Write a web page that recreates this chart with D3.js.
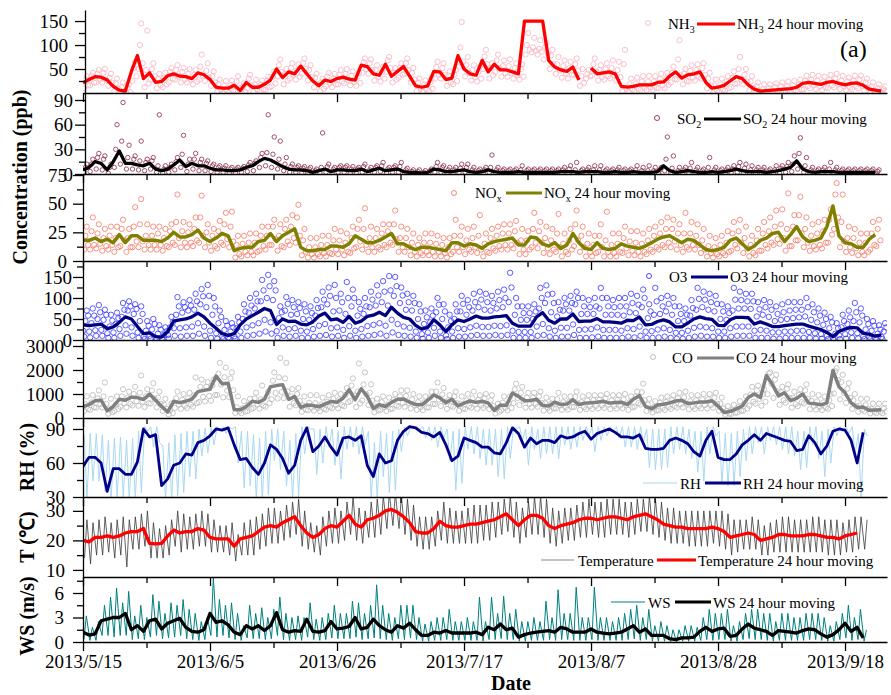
<!DOCTYPE html>
<html><head><meta charset="utf-8">
<script src="https://cdn.jsdelivr.net/npm/d3@7"></script>
<style>body{margin:0;background:#fff}svg{display:block}text{font-family:"Liberation Serif","Times New Roman",serif}</style>
</head><body><svg id="c" width="891" height="695"></svg>
<script>
// ---------------- DATA (daily values, day 0 = 2013/5/15) ----------------
const startDate = "2013-05-15";
const dateTicks = ["2013-05-15","2013-06-05","2013-06-26","2013-07-17","2013-08-07","2013-08-28","2013-09-18"];

const nh3MA = [21,28,34,33,27,14,6,4,45,78, 30,42,22,24,36,40,35,34,30,42, 38,28,12,10,10,16,5,22,12,12, 18,27,50,32,44,40,56,40,25,15, 27,24,30,33,29,27,58,55,40,37, 60,35,45,55,35,15,12,15,45,44, 28,31,78,50,40,37,68,44,60,48, 48,44,40,150,150,150,150,68,54,48, 45,54,27,null,52,40,42,44,40,14, 12,14,17,17,17,22,23,35,44,31, 38,40,44,22,10,12,16,25,34,30, 17,8,4,5,6,7,8,9,12,20, 22,20,18,22,24,20,17,20,21,16, 8,6,4];
const nh3Hi = [35,42,48,50,40,30,22,18,65,145, 130,62,40,42,52,58,52,50,48,80, 62,45,28,25,26,35,20,38,28,26, 34,45,70,50,62,60,72,58,40,30, 42,40,48,50,45,42,72,70,58,55, 75,52,62,72,52,30,26,30,65,62, 45,48,148,75,58,55,90,62,80,68, 70,62,60,125,115,110,104,90,75,68, 65,72,50,48,72,58,62,68,65,90, 30,32,35,36,35,40,42,55,110,50, 58,60,62,42,28,30,35,45,75,50, 35,22,18,18,20,22,24,25,28,36, 38,36,34,38,40,36,32,36,36,30, 22,18,14];
const nh3Mid = [28,36,40,42,32,20,12,10,52,100, 48,50,30,32,44,48,44,40,38,55, 46,35,18,16,16,24,12,30,18,18, 26,34,58,40,52,48,62,48,32,22, 34,30,38,40,36,34,64,62,48,44, 68,42,52,62,42,22,18,22,54,52, 36,38,95,58,48,44,76,52,68,56, 56,52,50,100,95,92,96,78,60,56, 52,60,35,40,60,48,50,52,48,60, 18,20,24,24,24,30,30,42,70,40, 46,48,52,30,16,18,24,32,50,38, 24,14,8,10,12,14,14,16,18,26, 28,26,24,28,30,26,24,26,28,22, 14,10,8];
const nh3Low2 = [16,22,28,27,21,9,3,2,35,62, 20,35,16,18,30,34,28,28,24,36, 32,22,7,5,5,10,2,16,7,7, 12,20,44,26,38,34,50,34,18,9, 20,18,24,27,23,21,50,48,34,30, 52,28,38,48,28,9,7,9,38,38, 22,25,66,42,33,30,60,37,52,41, 41,37,34,90,88,86,82,60,47,41, 38,47,21,35,45,33,35,37,33,9, 7,9,11,11,11,16,17,29,37,25, 32,34,38,16,5,7,10,19,28,24, 11,4,2,2,3,3,4,5,7,14, 16,14,12,16,18,14,11,14,15,11, 4,3,2];
const nh3Lo = [10,16,22,22,15,4,0,0,25,50, 12,28,10,12,22,28,22,22,18,28, 25,15,2,0,0,5,0,10,2,2, 6,14,35,18,30,28,40,26,12,4, 14,12,18,20,16,15,42,40,26,24, 44,22,32,40,22,4,2,4,30,30, 15,18,55,35,26,24,50,30,44,34, 34,30,28,80,85,80,70,50,40,32, 30,38,15,30,36,26,28,30,26,4, 2,4,6,6,6,10,10,22,28,18, 24,26,30,10,0,2,5,12,20,18, 6,0,0,0,0,0,0,0,2,8, 10,8,6,10,12,8,6,8,10,5, 0,0,0];

const so2MA = [5,8,15,13,5,15,28,13,13,11, 10,13,6,4,6,11,17,9,13,10, 10,7,5,5,4,4,5,8,10,15, 19,17,13,9,6,5,5,4,2,4, 6,3,5,5,4,4,6,3,5,7, 4,5,6,3,2,2,1,2,6,5, 3,3,4,5,3,2,3,5,3,2, 2,2,3,2,2,2,2,2,2,3, 3,3,2,3,3,3,2,2,3,2, 2,3,2,2,2,3,10,4,2,3, 4,3,2,2,3,2,3,4,6,4, 3,3,3,2,3,4,6,8,16,6, 3,2,3,3,3,2,2,2,2,2, 2,2];
const so2Hi = [12,18,25,22,12,60,87,35,22,40, 18,20,72,10,12,20,47,18,25,18, 16,12,10,10,8,8,9,14,16,25, 72,45,40,20,12,10,9,8,6,50, 12,8,10,10,9,8,12,8,10,14, 8,10,14,7,5,5,4,6,14,10, 8,8,12,12,8,6,8,23,8,6, 6,6,10,6,6,6,6,6,6,8, 10,14,6,8,10,10,6,6,8,6, 6,10,8,10,8,8,45,22,8,8, 14,8,6,20,8,6,8,10,14,12, 10,8,8,6,10,10,14,22,44,20, 8,6,8,14,8,6,6,6,6,6, 6,5];
const so2Mid = [8,12,20,18,8,30,40,20,18,16, 14,16,10,6,8,15,24,12,18,14, 13,10,8,7,6,6,7,11,13,20, 26,24,18,12,9,8,7,6,4,8, 9,6,8,8,6,6,9,5,8,10, 6,8,9,5,3,3,2,4,9,8, 5,5,7,8,5,4,5,8,5,4, 4,4,5,4,4,4,4,4,4,5, 6,5,4,5,5,5,4,4,5,4, 4,5,4,4,4,5,18,7,4,5, 7,5,4,8,5,4,5,6,9,7, 5,5,5,4,5,7,9,12,25,10, 5,4,5,6,5,4,4,4,4,4, 4,3];
const so2Lo = [2,3,6,5,1,8,12,6,6,5, 4,6,2,1,2,5,8,3,6,4, 4,3,2,2,1,1,2,3,4,8, 10,8,6,4,2,2,1,1,0,1, 2,1,2,2,1,1,2,1,2,3, 1,2,2,1,0,0,0,0,2,2, 1,1,1,2,1,0,1,2,1,0, 0,0,1,0,0,0,0,0,0,1, 1,1,0,1,1,1,0,0,1,0, 0,1,0,0,0,1,4,1,0,1, 1,1,0,0,1,0,1,1,2,1, 1,1,1,0,1,1,2,3,6,2, 1,0,1,1,1,0,0,0,0,0, 0,0];

const noxMA = [18,18,20,17,19,16,23,16,22,22, 18,18,18,17,20,25,21,21,23,27, 20,17,20,24,22,9,11,12,12,17, 18,24,17,22,25,28,12,9,9,10, 10,13,13,12,15,22,19,16,16,18, 21,24,15,15,12,10,12,12,11,10, 9,16,16,13,15,14,11,15,17,18, 19,20,14,14,21,20,15,13,16,11, 14,24,16,11,10,16,11,10,11,15, 13,12,11,13,16,19,21,22,19,16, 19,18,14,10,9,10,12,18,20,15, 10,13,18,20,24,25,17,23,30,21, 17,18,20,30,48,22,16,15,12,12, 19,23];
const noxHi = [30,38,32,28,30,30,36,28,47,54, 32,30,30,28,32,58,34,32,38,57, 32,28,35,42,43,22,22,24,24,30, 30,36,32,36,40,49,28,20,20,22, 22,28,26,24,30,36,46,30,28,32, 32,44,30,28,24,20,24,24,22,20, 20,36,30,28,30,40,24,28,30,32, 32,35,28,26,42,34,30,28,41,24, 28,44,30,24,22,32,43,24,24,30, 26,26,24,28,30,34,38,36,32,42, 34,32,28,22,20,22,26,34,36,30, 22,28,34,38,44,45,59,40,56,38, 32,34,36,45,68,58,30,28,24,24, 34,36];
const noxMid = [22,26,24,20,22,20,28,20,30,32, 22,22,24,20,26,34,26,25,28,38, 25,22,26,32,30,14,15,16,16,22, 22,30,22,28,30,38,18,12,12,14, 14,18,18,16,20,28,28,20,20,24, 26,32,20,20,16,14,16,16,15,14, 12,22,22,18,20,22,15,20,22,24, 24,26,18,18,28,26,20,18,24,15, 18,32,22,15,14,22,18,14,15,20, 17,16,15,18,22,24,28,28,24,24, 24,22,18,13,12,14,16,24,26,20, 14,18,24,26,30,32,28,30,40,28, 22,24,26,36,58,34,20,20,16,16, 24,28];
const noxLow2 = [14,14,15,13,14,12,18,12,17,17, 14,14,14,13,16,20,16,16,18,22, 16,13,16,19,17,6,8,8,8,13, 14,19,13,17,20,22,8,6,6,7, 7,10,10,8,11,17,14,12,12,14, 16,19,12,12,8,7,8,8,8,7, 6,12,12,10,12,10,8,11,13,14, 14,16,10,10,16,16,11,10,12,8, 10,18,12,8,7,12,8,7,8,11, 9,8,8,10,12,14,16,17,14,12, 14,14,10,7,6,7,8,14,16,11, 7,9,14,16,19,20,13,18,24,16, 13,14,16,23,38,17,12,11,8,8, 14,18];
const noxLo = [10,10,11,9,10,8,13,8,12,12, 10,10,10,9,12,14,12,12,13,16, 12,9,11,14,12,3,4,5,5,9, 10,14,9,12,14,16,5,3,3,4, 4,6,6,5,7,12,10,8,8,10, 12,14,8,8,5,4,5,5,4,4, 3,8,8,6,8,7,4,7,9,10, 10,11,6,6,12,11,7,6,8,4, 6,13,8,4,4,8,4,4,4,7, 5,5,4,6,8,10,12,12,10,8, 10,10,7,4,3,4,5,9,11,7, 4,5,9,11,14,15,9,13,18,12, 9,10,11,16,28,12,8,7,5,5, 10,13];

const o3MA = [36,34,36,38,27,31,42,55,50,32, 15,17,8,7,20,45,48,50,55,64, 55,40,28,15,11,15,36,50,58,66, 75,70,37,50,44,45,38,36,43,57, 64,48,50,42,56,40,45,56,59,66, 58,78,64,54,50,35,26,30,48,36, 20,36,48,44,50,57,52,52,55,56, 58,40,33,33,33,55,65,47,40,50, 50,62,44,45,45,51,43,43,42,40, 47,46,55,36,37,44,48,43,31,31, 40,50,55,51,49,35,34,48,54,54, 53,38,43,38,32,32,34,36,38,38, 33,29,25,18,8,20,26,30,29,16, 14,9,12];
const o3Hi = [70,75,83,72,60,65,88,92,85,80, 45,50,35,30,55,102,90,95,110,121, 131,100,70,45,40,55,85,100,110,143, 155,140,80,102,95,90,85,80,95,115, 125,131,110,138,120,90,100,115,130,140, 152,150,125,110,105,85,70,75,100,85, 60,85,105,95,110,115,110,105,115,120, 160,100,80,80,85,124,130,110,90,100, 105,115,100,95,100,124,100,95,100,100, 110,105,120,85,124,100,105,100,80,75, 95,124,115,110,105,85,80,124,115,110, 110,90,95,90,80,85,90,90,90,100, 85,75,65,55,40,60,70,88,75,50, 45,35,40];
const o3Up = [58,58,66,60,46,52,72,80,74,62, 34,38,25,21,42,80,78,82,92,104, 105,80,55,34,30,42,68,82,92,118, 128,118,66,86,78,76,68,64,76,96, 105,100,90,100,100,74,80,96,106,115, 118,128,106,90,88,68,54,58,84,68, 45,68,86,78,90,96,90,88,95,100, 125,80,64,64,68,100,108,88,72,85, 88,100,80,78,80,100,80,78,80,80, 88,84,100,68,92,80,86,80,62,60, 76,98,96,90,86,68,64,96,95,92, 92,73,78,72,62,66,70,72,72,78, 66,58,50,42,28,45,54,66,58,38, 34,25,30];
const o3Mid = [45,40,50,48,32,38,55,70,62,45, 22,25,15,12,30,60,65,70,72,85, 78,60,40,24,20,28,50,65,75,92, 100,95,52,70,60,62,50,48,58,78, 85,68,70,62,80,58,62,78,82,90, 82,105,88,72,70,50,38,42,66,50, 30,50,68,60,70,78,72,70,75,78, 90,60,48,48,50,75,88,66,56,70, 70,85,62,62,62,75,60,60,60,58, 66,64,78,52,60,62,68,60,45,45, 58,72,78,72,68,50,48,70,75,75, 74,56,60,55,45,48,50,52,54,56, 48,42,36,28,15,30,38,45,42,25, 22,15,20];
const o3Low2 = [22,20,23,24,16,18,26,35,30,18, 8,10,5,4,12,28,28,30,32,40, 32,22,16,8,6,9,20,30,35,40, 48,42,21,30,26,28,22,20,26,34, 38,28,30,24,33,22,26,33,36,40, 34,48,38,32,29,20,14,18,29,20, 11,20,28,26,30,34,31,31,34,33, 35,22,19,19,19,32,38,28,22,29, 29,37,24,25,26,30,24,24,24,22, 28,26,32,20,21,25,28,24,17,17, 22,29,32,30,28,20,20,28,32,32, 32,22,24,22,18,18,20,20,22,22, 19,16,14,10,4,11,14,18,16,9, 8,5,7];
const o3Lo = [8,6,10,10,5,5,10,15,10,5, 2,3,2,2,3,10,8,10,10,15, 10,5,3,2,2,3,5,10,12,15, 20,15,5,10,8,10,5,5,8,10, 12,8,10,5,10,5,8,10,12,15, 10,18,12,10,8,5,3,5,10,5, 2,5,8,8,10,12,10,10,12,10, 12,5,5,5,5,10,12,8,5,8, 8,12,5,5,6,8,5,5,5,5, 8,6,10,5,5,6,8,5,3,3, 5,8,10,8,8,5,5,8,10,10, 10,5,5,5,3,3,5,5,5,5, 5,3,3,2,0,2,3,5,4,2, 2,1,2];

const coMA = [480,560,720,740,300,480,780,740,870,850, 770,1000,740,480,250,700,640,700,780,1100, 1150,1200,1750,1430,1450,350,340,480,700,650, 780,1300,1350,1390,780,890,440,540,520,470, 580,690,660,820,1180,760,1220,900,400,560, 480,650,780,790,660,560,550,740,960,840, 640,780,500,620,710,650,700,620,320,540, 520,1040,900,720,730,780,520,500,660,560, 580,760,560,620,640,660,700,620,650,660, 560,780,930,480,390,540,570,630,710,740, 600,630,670,670,720,500,230,280,380,500, 850,1000,850,1770,1390,920,1050,720,820,1000, 620,590,550,630,1980,1300,1050,630,440,460, 320,330,340];
const coHi = [900,950,1150,1480,800,900,1200,1100,1300,1770, 1200,1450,1100,800,600,1100,1000,1050,1690,1600, 1500,1600,2300,2100,1900,900,700,800,1050,1350, 1100,1900,2500,2300,1200,1250,900,950,950,850, 950,1050,1000,1250,1650,2270,1900,1400,800,900, 850,1000,1150,1150,1000,900,900,1100,1480,1250, 950,1100,900,1000,1100,950,1000,950,600,900, 900,1430,1300,1050,1050,1100,850,800,1050,900, 900,1100,900,950,950,950,1000,950,950,1000, 900,1100,1430,800,700,850,900,950,1050,1100, 950,950,1000,1000,1050,850,500,550,700,900, 1300,1350,1200,1900,1800,1300,1400,1100,1200,1400, 1000,950,900,1000,2070,1800,1450,1000,800,800, 600,600,600];
const coMid = [560,650,820,900,380,560,900,850,1000,1050, 900,1150,850,560,320,820,760,820,950,1300, 1300,1350,1850,1700,1650,450,420,560,820,780, 900,1550,1700,1650,900,1000,520,640,620,560, 680,800,780,960,1350,1100,1400,1050,480,660, 560,760,900,920,780,660,650,860,1100,980, 740,900,600,730,820,760,820,730,400,640, 620,1200,1050,850,860,900,620,600,780,660, 680,880,660,730,750,770,820,730,760,780, 660,900,1080,560,460,640,670,740,830,860, 700,740,780,780,840,600,290,340,460,600, 980,1150,1000,1850,1600,1080,1220,840,960,1150, 720,690,650,740,1950,1500,1220,740,520,540, 380,390,400];
const coLow2 = [380,450,580,590,240,380,620,590,700,680, 620,800,590,380,200,560,510,560,620,880, 920,960,1400,1140,1160,280,270,380,560,520, 620,1040,1080,1110,620,710,350,430,420,380, 460,550,530,660,940,610,980,720,320,450, 380,520,620,630,530,450,440,590,770,670, 510,620,400,500,570,520,560,500,260,430, 420,830,720,580,580,620,420,400,530,450, 460,610,450,500,510,530,560,500,520,530, 450,620,740,380,310,430,460,500,570,590, 480,500,540,540,580,400,180,220,300,400, 680,800,680,1420,1110,740,840,580,660,800, 500,470,440,500,1580,1040,840,500,350,370, 260,260,270];
const coLo = [290,340,430,440,180,290,470,440,520,510, 460,600,440,290,150,420,380,420,470,660, 690,720,960,860,870,210,200,290,420,390, 470,780,810,830,470,530,260,320,310,280, 350,410,400,490,710,460,730,540,240,340, 290,390,470,470,400,340,330,440,580,500, 380,470,300,370,430,390,420,370,190,320, 310,620,540,430,440,470,310,300,400,340, 350,460,340,370,380,400,420,370,390,400, 340,470,560,290,230,320,340,380,430,440, 360,380,400,400,430,300,140,170,230,300, 510,600,510,990,830,550,630,430,490,600, 370,350,330,380,1020,780,630,380,260,280, 190,200,200];

const rhMA = [57,65,65,60,35,55,55,50,50,61, 90,83,85,40,46,58,60,68,67,78, 80,84,90,89,91,76,63,64,56,50, 60,76,72,64,51,58,80,91,70,75, 83,74,67,82,83,80,84,58,48,68, 60,62,80,88,92,91,87,86,83,87, 76,62,66,82,80,78,74,74,69,68, 78,91,86,74,82,77,80,80,78,84, 82,83,86,88,81,86,88,90,87,83, 83,82,85,73,72,72,73,80,82,80, 77,70,66,80,88,65,63,63,68,76, 80,85,80,86,84,82,80,79,71,72, 84,78,68,75,88,90,89,80,60,87];
const rhHi = [85,86,86,85,80,82,83,80,82,88, 92,92,92,75,78,85,86,88,88,90, 91,92,92,92,92,92,88,88,85,82, 88,90,90,88,80,86,92,92,90,90, 92,90,88,92,92,92,92,88,78,88, 86,88,90,92,92,92,92,92,92,92, 90,88,90,92,92,92,90,90,90,90, 92,92,92,90,92,90,92,92,92,92, 92,92,92,92,92,92,92,92,92,92, 92,92,92,90,90,90,90,92,92,92, 90,88,88,92,92,88,86,86,88,90, 92,92,92,92,92,92,92,92,88,88, 92,92,88,90,92,92,92,92,86,90];
const rhLo = [30,44,44,35,28,30,30,28,28,34, 88,74,78,28,28,31,34,48,46,66, 69,76,88,86,90,60,38,40,28,28, 32,62,54,40,28,30,68,90,50,60, 74,58,46,72,74,68,76,28,28,48, 34,36,70,84,92,90,82,80,74,82, 62,36,42,72,68,64,58,58,48,46, 64,90,80,58,72,64,68,68,64,76, 72,74,80,84,70,80,84,88,82,74, 74,72,78,56,54,54,56,68,72,68, 64,52,44,68,84,42,40,40,48,62, 68,78,68,80,76,72,68,66,54,56, 76,64,48,60,84,88,86,68,30,84];

const tMA = [20,19.5,21,21,21.5,21,21.5,22.5,23,23, 24,19,18.8,19,21.5,23.5,22.5,23,23,24, 23.5,21,20.5,20.5,20.5,18,20.5,21,21.5,23, 24.5,25,24.5,26,27,28,25,22.5,21,22, 24,25,24.5,26.5,28.5,25.5,24.5,27,27.5,28.5, 30,30.5,29.5,28,26,23,22.5,22.5,24,26.5, 25,24.5,24.5,25,25.5,25.5,26,26.5,27,28, 29,27,25,27,28.5,28.5,27.5,25,24,25, 25.5,26,27,27.5,27.5,27,27.5,28,28,27.5, 27,28,28.5,29,28,27,25.5,25,24.5,24.5, 24,24,24,24,24.5,24,23,21,21.5,22, 22.5,22,20,20.5,21,22,22,21.5,21.5,21.5, 22,22,21.5,21,21,20.5,21.5,22,22.5];
const tHi = [27,26,27,28,26,27,28,27,28,29, 30,26,24,25,27,30,29,28,29,30, 29,27,25,25,26,22,26,27,28,29, 31,31,30,32,33,34,30,26,25,28, 30,31,30,33,35,31,30,33,34,35, 36,36,35,34,32,28,28,28,30,33, 31,30,30,31,32,32,32,33,33,34, 35,33,31,33,35,35,34,31,30,31, 31,32,33,34,33,33,34,34,34,33, 33,34,34,35,34,33,31,31,30,30, 30,30,30,30,30,30,29,27,27,27, 28,27,25,26,27,28,28,27,27,27, 28,28,27,27,27,26,27,28,28,27];
const tLo = [14,12,15,15,16,14,15,11,17,17, 18,14,14,14,15,18,16,17,17,18, 18,16,16,16,15,13,15,15,15,17, 18,19,19,20,21,22,18,17,16,15, 18,19,19,20,22,20,19,21,21,22, 24,25,24,22,20,18,17,17,18,20, 19,19,19,19,19,19,20,20,21,22, 23,21,19,21,22,22,21,19,18,19, 20,20,21,21,22,21,21,22,22,22, 21,22,23,23,22,21,20,19,19,19, 18,18,18,18,19,18,17,15,16,17, 17,17,15,15,16,16,16,16,16,16, 16,16,16,15,15,15,16,16,17,17];

const wsMA = [1.2,0.85,1.0,2.6,2.8,3.0,3.0,3.5,1.5,2.0, 1.3,2.6,2.8,1.6,2.3,2.6,2.9,1.8,1.3,1.2, 1.5,3.5,2.4,2.6,2.1,1.2,0.9,2.0,1.6,2.0, 1.4,2.0,3.6,1.5,1.2,1.4,1.3,2.8,1.3,1.2, 1.4,2.5,1.6,1.7,1.9,3.0,1.6,1.8,2.8,2.0, 1.5,1.2,2.0,1.7,2.3,1.5,0.8,0.8,1.2,1.1, 1.4,1.1,1.1,1.1,1.1,1.2,0.9,1.8,1.5,2.2, 1.5,1.7,0.6,0.9,1.1,1.2,1.3,1.4,1.2,1.8, 1.6,1.2,1.2,1.2,1.6,1.2,1.1,1.0,1.1,1.2, 1.6,2.0,1.2,1.6,0.8,0.8,0.8,0.4,0.3,0.5, 0.5,0.6,1.3,1.8,1.3,1.6,1.7,0.7,0.8,1.6, 2.2,1.7,1.5,1.3,0.8,1.4,1.3,1.2,1.1,1.4, 1.6,1.5,1.0,0.6,0.9,1.5,2.3,1.3,1.8,0.5];
const wsHi = [3.2,1.8,2.5,4.5,5.5,6.6,4.8,6.2,3.2,4.5, 3.0,5.8,5.0,3.5,4.8,4.5,5.2,4.0,3.5,2.5, 3.0,7.9,5.2,4.5,4.8,3.5,2.0,4.5,3.5,4.2, 3.0,4.0,5.5,3.5,3.0,3.2,3.0,4.8,2.8,3.0, 3.5,4.5,3.5,3.5,5.0,4.8,3.5,4.5,7.0,4.5, 3.5,3.0,4.5,4.5,4.5,3.0,2.2,2.5,3.0,3.0, 4.0,2.5,2.5,3.0,2.5,5.5,2.5,5.5,3.5,5.6, 3.5,4.0,2.5,2.5,3.0,2.5,5.0,3.0,6.4,3.5, 3.5,6.7,3.0,3.0,6.7,3.0,3.0,2.5,3.0,3.5, 4.0,4.5,3.0,4.0,2.0,2.5,2.0,1.5,1.5,2.0, 2.0,1.8,3.0,4.0,3.5,3.5,4.0,2.0,2.5,3.5, 4.0,4.0,3.5,3.5,2.5,3.5,3.5,3.0,3.0,3.5, 3.5,3.5,3.0,2.0,2.5,3.5,4.5,3.0,4.0,1.5];
const wsLo = [0.3,0.2,0.2,0.8,0.8,0.6,0.8,0.8,0.3,0.4, 0.3,0.6,0.8,0.4,0.5,0.6,0.8,0.4,0.3,0.2, 0.3,0.8,0.6,0.8,0.5,0.3,0.2,0.5,0.4,0.4, 0.3,0.4,0.8,0.3,0.2,0.3,0.2,0.6,0.3,0.2, 0.3,0.5,0.4,0.4,0.4,0.6,0.3,0.4,0.5,0.4, 0.3,0.2,0.4,0.3,0.5,0.3,0.1,0.1,0.2,0.2, 0.3,0.2,0.2,0.2,0.2,0.2,0.1,0.3,0.3,0.4, 0.3,0.3,0.1,0.1,0.2,0.2,0.2,0.3,0.2,0.3, 0.3,0.2,0.2,0.2,0.3,0.2,0.2,0.2,0.2,0.2, 0.3,0.4,0.2,0.3,0.1,0.1,0.1,0.0,0.0,0.1, 0.1,0.1,0.2,0.3,0.2,0.3,0.3,0.1,0.1,0.3, 0.4,0.3,0.3,0.2,0.1,0.2,0.2,0.2,0.2,0.2, 0.3,0.3,0.2,0.1,0.1,0.3,0.5,0.2,0.3,0.1];

// y tick labels per panel
const nh3Ticks=[50,100,150], so2Ticks=[0,30,60,90], noxTicks=[0,25,50,75], o3Ticks=[0,50,100,150],
      coTicks=[0,1000,2000,3000], rhTicks=[30,60,90], tTicks=[10,20,30], wsTicks=[0,3,6];

// ---------------- DRAWING ----------------
const svg = d3.select("#c");
const DAY = 864e5;
const t0 = new Date(startDate + "T00:00:00Z").getTime();
const dt = d => new Date(t0 + d * DAY);
const x = d3.scaleUtc().domain([dt(0), dt(132.94)]).range([83, 887]);
const FONT = "'Liberation Serif','Times New Roman',serif";

const panels = [
  {top:10,  bottom:93,  dom:[0,173],    ticks:nh3Ticks, minor:[25,75,125], ax:85, pad:7},
  {top:93,  bottom:174, dom:[0,98.5],   ticks:so2Ticks, minor:[15,45,75], ax:85, pad:2},
  {top:174, bottom:261, dom:[0,75.9],   ticks:noxTicks, minor:[12.5,37.5,62.5], ax:83, pad:6},
  {top:261, bottom:340, dom:[0,188],    ticks:o3Ticks,  minor:[25,75,125,175], ax:83, pad:1},
  {top:340, bottom:418, dom:[0,3250],   ticks:coTicks,  minor:[500,1500,2500], ax:83, pad:9},
  {top:418, bottom:497, dom:[30,99.7],  ticks:rhTicks,  minor:[45,75], ax:83, pad:8},
  {top:497, bottom:577, dom:[7.6,34.7], ticks:tTicks,   minor:[15,25], ax:83, pad:8},
  {top:577, bottom:642, dom:[0,7.96],   ticks:wsTicks,  minor:[1.5,4.5,7.5], ax:83, pad:9}
];
panels.forEach((p,i) => {
  p.y = d3.scaleLinear().domain(p.dom).range([p.bottom, p.top]);
  svg.append("clipPath").attr("id","clip"+i).append("rect")
    .attr("x",83).attr("y",p.top).attr("width",804).attr("height",p.bottom-p.top);
  p.g = svg.append("g").attr("clip-path","url(#clip"+i+")");
});

// time-of-day slot for each reading series inside its day
const SLOTS = [0.62, 0.4, 0.18, 0.85, 0.03];
function scatter(p, series, color, r, sw){
  const pts = [];
  series.forEach((arr,k) => arr.forEach((v,i)=>{ if(v!=null) pts.push([i+SLOTS[k],v]); }));
  p.g.append("g").selectAll("circle").data(pts).join("circle")
    .attr("cx",d=>x(dt(d[0]))).attr("cy",d=>p.y(d[1])).attr("r",r)
    .attr("fill","none").attr("stroke",color).attr("stroke-width",sw);
}
function rawLine(p, a, ta, b, tb, color, sw){
  const pts = [];
  for(let i=0;i<a.length;i++){ pts.push([i+ta,a[i]]); pts.push([i+tb,b[i]]); }
  p.g.append("path").datum(pts).attr("fill","none").attr("stroke",color).attr("stroke-width",sw)
    .attr("d", d3.line().x(d=>x(dt(d[0]))).y(d=>p.y(d[1])));
}
function maLine(p, arr, color, sw){
  p.g.append("path").datum(arr.map((v,i)=>[i,v])).attr("fill","none").attr("stroke",color)
    .attr("stroke-width",sw).attr("stroke-linejoin","round")
    .attr("d", d3.line().defined(d=>d[1]!=null).x(d=>x(dt(d[0]))).y(d=>p.y(d[1])));
}

const C = {
  nh3:"#f7b9c6", nh3L:"#ff0000", so2:"#8a2a45", so2L:"#000000", nox:"#f27a66", noxL:"#808000",
  o3:"#3535ff", o3L:"#000080", co:"#b8b8b8", coL:"#808080", rh:"#a9d8f2", rhL:"#00008b",
  t:"#3a3a3a", tL:"#ff0000", ws:"#008080", wsL:"#000000"
};

scatter(panels[0], [nh3Hi, nh3Mid, nh3Lo, nh3Low2], C.nh3, 2.6, 0.9); maLine(panels[0], nh3MA, C.nh3L, 3.3);
scatter(panels[1], [so2Hi, so2Mid, so2Lo], C.so2, 2.2, 0.8); maLine(panels[1], so2MA, C.so2L, 3.3);
scatter(panels[2], [noxHi, noxMid, noxLo, noxLow2], C.nox, 2.6, 0.8); maLine(panels[2], noxMA, C.noxL, 3.5);
scatter(panels[3], [o3Hi, o3Mid, o3Lo, o3Up, o3Low2], C.o3, 2.7, 0.8);  maLine(panels[3], o3MA, C.o3L, 3.3);
scatter(panels[4], [coHi, coMid, coLo, coLow2], C.co, 2.6, 0.8);  maLine(panels[4], coMA, C.coL, 3.5);
rawLine(panels[5], rhHi, 0.2, rhLo, 0.65, C.rh, 1); maLine(panels[5], rhMA, C.rhL, 2.8);
rawLine(panels[6], tLo, 0.25, tHi, 0.65, C.t, 0.8); maLine(panels[6], tMA, C.tL, 3.3);
rawLine(panels[7], wsLo, 0.15, wsHi, 0.55, C.ws, 1); maLine(panels[7], wsMA, C.wsL, 3.3);

// axes
const majorDates = dateTicks.map(s => new Date(s+"T00:00:00Z"));
const minorDates = majorDates.map(d => new Date(d.getTime() + 10.5*DAY));
const fmt = d3.utcFormat("%Y/%-m/%-d");
function styleAxis(g, fs){
  g.attr("font-family",FONT).attr("font-size",fs);
  g.selectAll("path,line").attr("stroke","#000").attr("stroke-width",1.3);
  g.selectAll("text").attr("fill","#000");
}
panels.forEach((p,i) => {
  const last = i === panels.length-1;
  const gx = svg.append("g").attr("transform",`translate(0,${p.bottom})`)
    .call(d3.axisBottom(x).tickValues(majorDates).tickSize(9).tickSizeOuter(0).tickPadding(4)
      .tickFormat(last ? fmt : ""));
  styleAxis(gx, 19);
  const gm = svg.append("g").attr("transform",`translate(0,${p.bottom})`)
    .call(d3.axisBottom(x).tickValues(minorDates.filter(d=>x(d)<887)).tickSize(6).tickFormat(""));
  gm.select(".domain").remove(); styleAxis(gm, 19);
  const gy = svg.append("g").attr("transform",`translate(${p.ax},0)`)
    .call(d3.axisLeft(p.y).tickValues(p.ticks).tickSize(10).tickSizeOuter(0).tickPadding(p.pad).tickFormat(d3.format("d")));
  styleAxis(gy, 19);
  const gy2 = svg.append("g").attr("transform",`translate(${p.ax},0)`)
    .call(d3.axisLeft(p.y).tickValues(p.minor).tickSize(6).tickFormat(""));
  gy2.select(".domain").remove(); styleAxis(gy2, 19);
});

// axis titles
function vTitle(txt, cx, cy){
  svg.append("text").attr("transform",`translate(${cx},${cy}) rotate(-90)`).attr("text-anchor","middle")
    .attr("font-family",FONT).attr("font-weight","bold").attr("font-size",20).text(txt);
}
vTitle("Concentration (ppb)", 27, 177);
vTitle("RH (%)", 34, 457);
vTitle("T (\u2103)", 34, 537);
vTitle("WS (m/s)", 34, 616);
svg.append("text").attr("x",511).attr("y",690).attr("text-anchor","middle").attr("font-family",FONT)
  .attr("font-weight","bold").attr("font-size",20).text("Date");
svg.append("text").attr("x",840).attr("y",57).attr("font-family",FONT).attr("font-size",24).text("(a)");

// legends
function lt(xp, yp, parts){
  const t = svg.append("text").attr("x",xp).attr("y",yp).attr("font-family",FONT).attr("font-size",15);
  let shifted = false;
  parts.forEach(s => {
    if (s.startsWith("_")) { t.append("tspan").attr("dy",4).attr("font-size",10).text(s.slice(1)); shifted = true; }
    else { const sp = t.append("tspan").text(s); if (shifted) { sp.attr("dy",-4); shifted=false; } }
  });
}
function lcirc(xp, yp, color){ svg.append("circle").attr("cx",xp).attr("cy",yp).attr("r",2.5).attr("fill","none").attr("stroke",color).attr("stroke-width",0.9); }
function lline(x1, x2, yp, color, sw){ svg.append("line").attr("x1",x1).attr("x2",x2).attr("y1",yp).attr("y2",yp).attr("stroke",color).attr("stroke-width",sw); }

lcirc(648,23,C.nh3); lt(668,29,["NH","_3"]); lline(697,735,24,C.nh3L,3); lt(737,29,["NH","_3"," 24 hour moving"]);
lcirc(657,118,C.so2); lt(677,124,["SO","_2"]); lline(704,741,119,C.so2L,3); lt(743,124,["SO","_2"," 24 hour moving"]);
lcirc(454,193,C.nox); lt(475,198,["NO","_x"]); lline(506,542,193,C.noxL,3); lt(544,198,["NO","_x"," 24 hour moving"]);
lcirc(649,276,C.o3); lt(669,282,["O3"]); lline(691,728,277,C.o3L,3); lt(730,282,["O3 24 hour moving"]);
lcirc(653,357,C.co); lt(672,363,["CO"]); lline(697,734,358,C.coL,3); lt(736,363,["CO 24 hour moving"]);
lline(643,677,483,C.rh,1); lt(680,489,["RH"]); lline(705,741,483,C.rhL,3); lt(743,489,["RH 24 hour moving"]);
lline(541,574,560,"#888",1); lt(578,566,["Temperature"]); lline(657,696,560,C.tL,3); lt(698,566,["Temperature 24 hour moving"]);
lline(611,645,602,C.ws,1); lt(648,608,["WS"]); lline(675,711,602,C.wsL,3); lt(713,608,["WS 24 hour moving"]);
</script>
</body></html>
